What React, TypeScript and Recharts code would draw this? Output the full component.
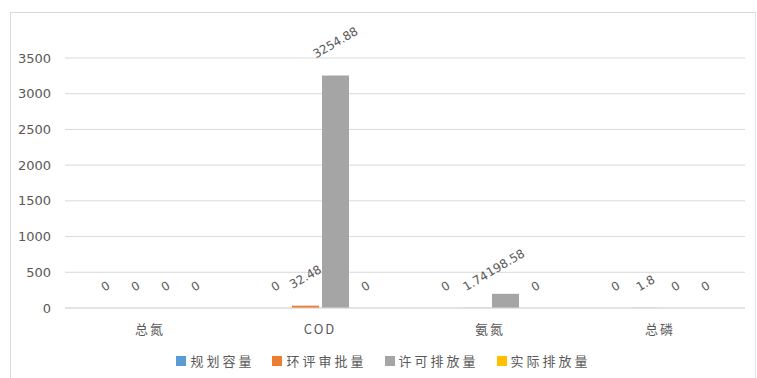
import React from 'react';
import { BarChart, Bar, XAxis, YAxis, CartesianGrid, Legend, LabelList } from 'recharts';

const categories = ['总氮', 'COD', '氨氮', '总磷'];
const planned = [0, 0, 0, 0];
const approved = [0, 32.48, 1.74, 1.8];
const permitted = [0, 3254.88, 198.58, 0];
const actual = [0, 0, 0, 0];
const yTicks = [0, 500, 1000, 1500, 2000, 2500, 3000, 3500];

const seriesNames = ['规划容量', '环评审批量', '许可排放量', '实际排放量'];
const seriesKeys = ['planned', 'approved', 'permitted', 'actual'];
const seriesColors = ['#5B9BD5', '#ED7D31', '#A5A5A5', '#FFC000'];

const data = categories.map((c, i) => ({
  name: c,
  planned: planned[i],
  approved: approved[i],
  permitted: permitted[i],
  actual: actual[i],
}));

const TEXT = '#595959';
const CJK = '"Noto Sans CJK SC", "Noto Sans", sans-serif';
const NUM = '"DejaVu Sans", sans-serif';

const RotLabel = (props: any) => {
  const { x, y, width, value } = props;
  const s = String(value);
  let w = 0;
  for (const ch of s) w += ch === '.' ? 3.8 : 7.6;
  const cx = Number(x) + Number(width) / 2;
  const cy = Number(y) - (19.5 + 0.27 * w);
  return (
    <text
      x={cx}
      y={cy}
      textAnchor="middle"
      dominantBaseline="central"
      fill={TEXT}
      fontSize={12}
      fontFamily={NUM}
      transform={`rotate(-30, ${cx}, ${cy})`}
    >
      {s}
    </text>
  );
};

const LegendContent = () => (
  <div
    style={{
      height: 30,
      display: 'flex',
      justifyContent: 'center',
      alignItems: 'flex-start',
      paddingTop: 3,
      paddingLeft: 12,
      boxSizing: 'border-box',
      fontFamily: CJK,
      fontSize: 13,
      color: TEXT,
      letterSpacing: 3,
    }}
  >
    {seriesNames.map((n, i) => (
      <div key={n} style={{ display: 'flex', alignItems: 'center', marginRight: i < 3 ? 18 : 0 }}>
        <span style={{ display: 'inline-block', width: 10, height: 10, background: seriesColors[i], marginRight: 4 }} />
        <span>{n}</span>
      </div>
    ))}
  </div>
);

const minSize = (v: any) => (Number(v) === 0 ? 0.01 : 0);

export default function App() {
  return (
    <div style={{ position: 'absolute', left: 0, top: 0, width: 757, height: 378, background: '#fff', overflow: 'hidden' }}>
      <div
        style={{
          position: 'absolute',
          left: 10,
          top: 12,
          width: 744,
          height: 400,
          borderLeft: '1px solid #D9D9D9',
          borderTop: '1px solid #D9D9D9',
          borderRight: '1px solid #E6E6E6',
        }}
      />
      <div style={{ position: 'absolute', left: 0, top: 0 }}>
        <BarChart
          width={757}
          height={378}
          data={data}
          margin={{ top: 58, right: 12, left: 10, bottom: 0 }}
          barSize={27}
          barGap={3}
        >
          <CartesianGrid vertical={false} stroke="#D9D9D9" />
          <XAxis
            dataKey="name"
            axisLine={{ stroke: '#D9D9D9' }}
            tickLine={false}
            tickSize={0}
            tickMargin={17}
            height={40}
            tick={{ fill: TEXT, fontSize: 13, fontFamily: CJK, letterSpacing: 2 }}
          />
          <YAxis
            domain={[0, 3500]}
            ticks={yTicks}
            axisLine={false}
            tickLine={false}
            tickSize={0}
            tickMargin={14}
            width={55}
            tick={{ fill: TEXT, fontSize: 13, fontFamily: NUM }}
          />
          <Legend verticalAlign="bottom" align="center" content={<LegendContent />} />
          {seriesKeys.map((k, i) => (
            <Bar
              key={k}
              dataKey={k}
              name={seriesNames[i]}
              fill={seriesColors[i]}
              minPointSize={minSize}
              isAnimationActive={false}
            >
              <LabelList dataKey={k} content={<RotLabel />} />
            </Bar>
          ))}
        </BarChart>
      </div>
    </div>
  );
}
